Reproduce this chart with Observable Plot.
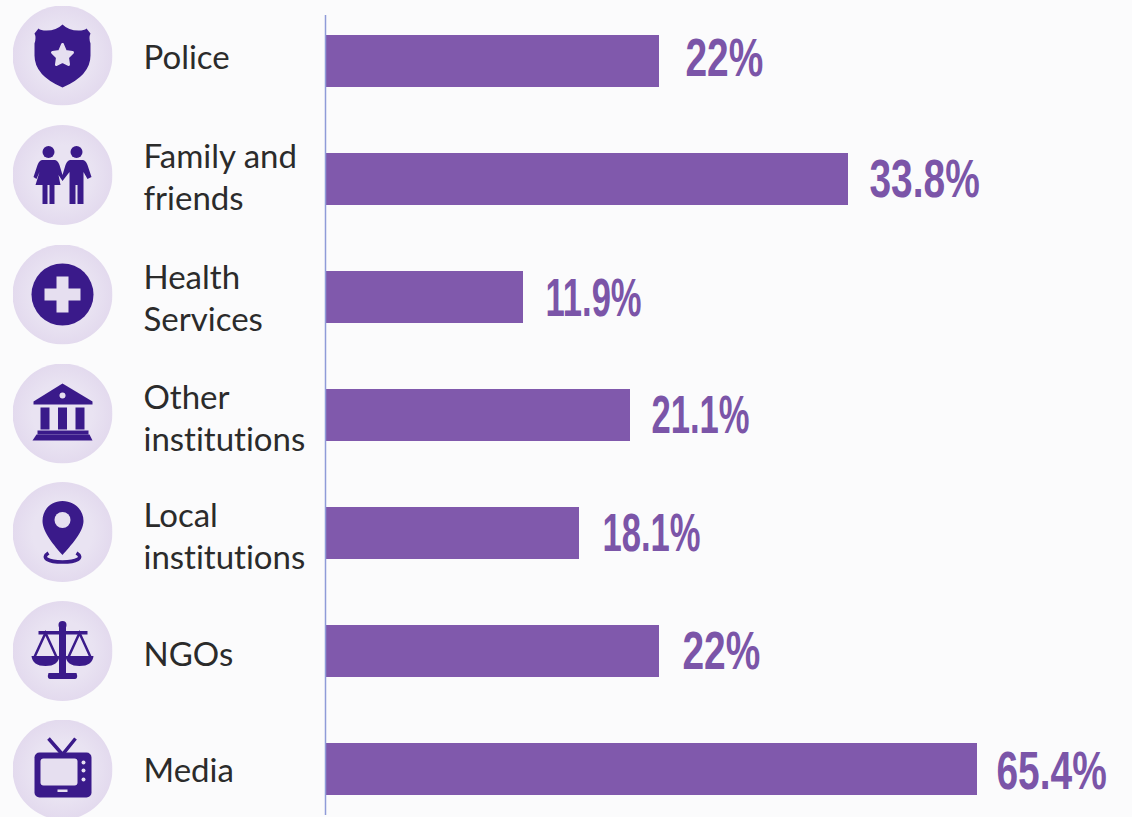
<!DOCTYPE html>
<html>
<head>
<meta charset="utf-8">
<script src="https://cdn.jsdelivr.net/npm/d3@7"></script>
<script src="https://cdn.jsdelivr.net/npm/@observablehq/plot@0.6"></script>
<style>
  html, body { margin: 0; padding: 0; background: #fbfbfc; overflow: hidden; }
  svg { display: block; font-variant-ligatures: none; }
</style>
</head>
<body>
<div id="chart"></div>
<script>
// Reported percentages per source
const categories = ["Police", "Family and\nfriends", "Health\nServices", "Other\ninstitutions", "Local\ninstitutions", "NGOs", "Media"];
const values = [22, 33.8, 11.9, 21.1, 18.1, 22, 65.4];

// The bars on this graphic are not proportional to their percentages:
// each percentage maps to its own length through a piecewise transform of x.
const barLength = d3.scaleLinear()
  .domain([0, 11.9, 18.1, 21.1, 22, 33.8, 65.4])
  .range([0, 198, 254, 305, 334, 523, 652]);

// Per-row nudges for the icons, the category labels and the percentage labels
const iconShift = [-6, -4.5, -3, -2, -1.5, -0.5, 0];
const labelShift = [-6, -4, -1, 1, 1, 1, -1];
const valueGap = [26, 21, 22, 21, 23, 23, 19];
const valueRise = [-3, 0, 1, 0, 0, 0, 2];

const INK = "#3a1a8a", PAPER = "#e6dff0";

// Pictograms, each on a 100x100 disc
const glyphs = [
  // shield with star
  `<path fill="${INK}" d="M50 19 Q56 25 66 25 Q72 25 74 23 L78 28 Q76 32 78 38 L78 50 Q78 70 50 82 Q22 70 22 50 L22 38 Q24 32 22 28 L26 23 Q28 25 34 25 Q44 25 50 19Z"/>
   <path fill="${PAPER}" stroke="${PAPER}" stroke-width="3" stroke-linejoin="round" d="M50 39 L53 46 L60 47 L55 52 L56 59 L50 56 L44 59 L45 52 L40 47 L47 46Z"/>`,
  // two people holding hands
  `<g fill="${INK}"><circle cx="36" cy="27" r="6"/><circle cx="64" cy="27" r="6"/>
   <path d="M30 35 H42 Q45 35 47 40 L50 50 L53 40 Q55 35 58 35 H70 Q73 35 75 40 L79 52 L75 54 L71 47 V60 V79 H65 V60 H63 V79 H57 V60 V47 L50 56 L46 50 L48 60 H42 V79 H37 V60 H35 V79 H30 V60 H23 L27 47 L24 54 L21 52 L25 40 Q27 35 30 35Z"/></g>`,
  // medical cross
  `<circle cx="50" cy="50" r="31" fill="${INK}"/><path fill="${PAPER}" d="M44 32 H56 V44 H68 V56 H56 V68 H44 V56 H32 V44 H44Z"/>`,
  // institution building
  `<g fill="${INK}"><path d="M50 20 L80 38 V41 H21 V38Z"/><rect x="28" y="44" width="9" height="22"/><rect x="45.5" y="44" width="9" height="22"/><rect x="63" y="44" width="9" height="22"/><rect x="25" y="67" width="51" height="4"/><path d="M24 71 H77 L80 77 H20Z"/></g><circle cx="50" cy="32" r="3" fill="${PAPER}"/>`,
  // map pin on a ring
  `<path fill="none" stroke="${INK}" stroke-width="3.5" d="M36 71 C28 76 36 80 50 80 C64 80 72 76 64 71"/>
   <path fill="${INK}" d="M50 19 C62 19 71 28 71 39 C71 50 58 64 50 73 C42 64 30 50 30 39 C30 28 38 19 50 19Z"/><circle cx="50" cy="38" r="8" fill="${PAPER}"/>`,
  // balance scales
  `<g fill="${INK}"><rect x="46.5" y="22" width="7" height="52"/><circle cx="50" cy="24" r="4"/><rect x="26" y="30" width="49" height="3.5"/><path d="M36 72 H64 Q66 78 62 78 H38 Q34 78 36 72Z"/><path d="M19 55 H47 Q46 65 33 65 Q20 65 19 55Z"/><path d="M53 55 H81 Q80 65 67 65 Q54 65 53 55Z"/></g>
   <path fill="none" stroke="${INK}" stroke-width="2.5" d="M22 56 L33 32 L44 56 M56 56 L67 32 L78 56"/>`,
  // television
  `<path fill="none" stroke="${INK}" stroke-width="3.5" d="M36 19 L50 35 L63 19"/>
   <rect x="22" y="33" width="57" height="45" rx="5" fill="${INK}"/><rect x="28" y="39" width="37" height="27" rx="3" fill="${PAPER}"/>
   <g fill="${PAPER}"><circle cx="71" cy="43" r="2"/><circle cx="71" cy="51" r="2"/><circle cx="71" cy="60" r="2"/><rect x="45" y="70" width="10" height="2.5"/></g>`
];

const iconHref = (glyph) => "data:image/svg+xml," + encodeURIComponent(
  `<svg xmlns="http://www.w3.org/2000/svg" viewBox="0 0 100 100"><defs><radialGradient id="disc"><stop offset="0.6" stop-color="#e9e3f2"/><stop offset="1" stop-color="#e3daee"/></radialGradient></defs><circle cx="50" cy="50" r="50" fill="url(#disc)"/>${glyph}</svg>`
);

const rows = categories.map((category, i) => ({category, value: values[i]}));
const percent = (d) => `${d.value}%`;

// Narrows a percentage label about its anchor, standing in for a condensed face;
// the numeral 1 is slimmer in such a face, so labels holding one narrow further.
const condense = (index, scales, channels, dimensions, context, next) => {
  const g = next(index, scales, channels, dimensions, context);
  g.querySelectorAll("text").forEach((t) => {
    const squeeze = t.textContent.includes("1") ? 0.64 : 0.72;
    t.setAttribute("transform", `${t.getAttribute("transform") || ""} scale(${squeeze} 1)`);
  });
  return g;
};

const chart = Plot.plot({
  width: 1132,
  height: 817,
  marginLeft: 0,
  marginRight: 0,
  marginTop: 15,
  marginBottom: 2,
  style: {background: "#fbfbfc"},
  x: {axis: null, transform: barLength, domain: [0, 652], range: [325, 977]},
  y: {axis: null, domain: categories, range: [35, 795], paddingInner: 0.56, paddingOuter: 0},
  marks: [
    Plot.barX(rows, {x: "value", y: "category", fill: "#8059ac"}),
    Plot.ruleX([0], {stroke: "#8f9bd8", strokeWidth: 1.5}),
    ...rows.flatMap((d, i) => [
      Plot.text([d], {
        x: "value", y: "category", text: percent,
        textAnchor: "start", dx: valueGap[i], dy: valueRise[i],
        fill: "#7b55a8", fontSize: 54, fontWeight: 700,
        fontFamily: "'Liberation Sans', Arial, sans-serif",
        render: condense
      }),
      Plot.image([d], {
        y: "category", src: () => iconHref(glyphs[i]),
        frameAnchor: "left", dx: 62, dy: iconShift[i], width: 100, height: 100
      }),
      Plot.text([d], {
        y: "category", text: "category",
        frameAnchor: "left", textAnchor: "start", dx: 143, dy: labelShift[i],
        fill: "#2b2b2b", fontSize: 33, lineHeight: 1.27,
        fontFamily: "Lato, 'Noto Sans', sans-serif"
      })
    ])
  ]
});
document.getElementById("chart").append(chart);
</script>
</body>
</html>
